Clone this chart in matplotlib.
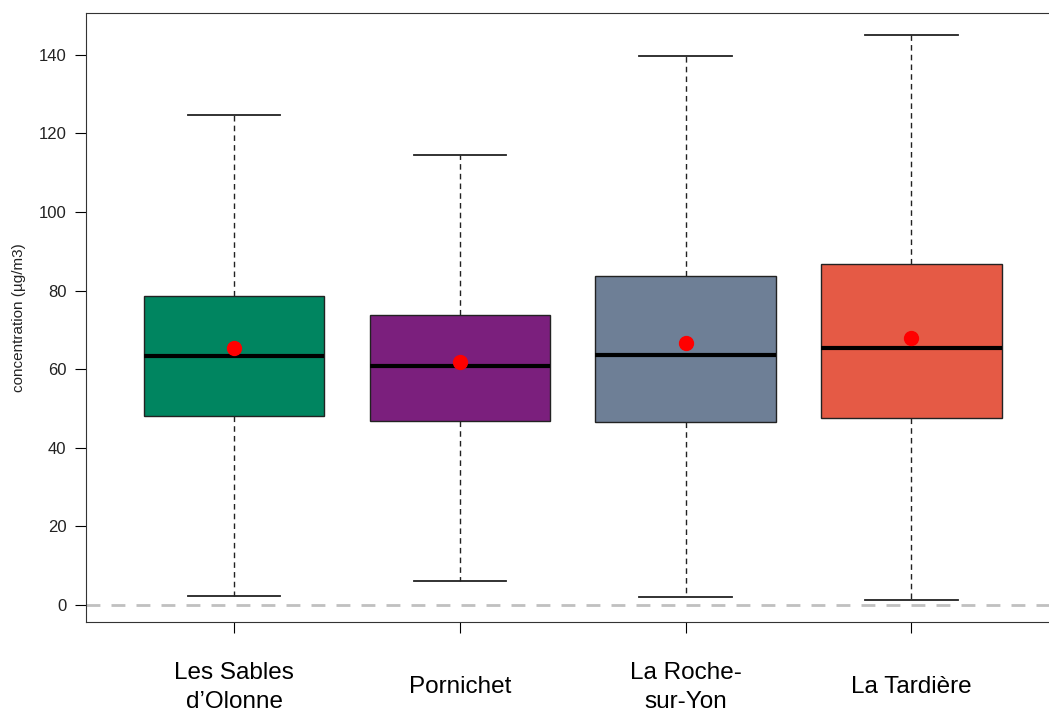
import matplotlib
matplotlib.use("Agg")
import matplotlib.pyplot as plt

sites = ["Les Sables\nd\u2019Olonne", "Pornichet", "La Roche-\nsur-Yon", "La Tardi\u00e8re"]
whislo = [2.3, 6.1, 2.0, 1.3]
q1 = [48.1, 46.8, 46.6, 47.6]
med = [63.4, 60.8, 63.6, 65.4]
q3 = [78.6, 73.8, 83.7, 86.8]
whishi = [124.6, 114.5, 139.7, 145.1]
means = [65.4, 61.8, 66.7, 68.0]
colors = ["#008560", "#7B1F7D", "#6E7F96", "#E55A45"]

plt.rcParams['font.family'] = ['Liberation Sans', 'DejaVu Sans']

fig = plt.figure(figsize=(10.49, 7.11), dpi=100)
ax = fig.add_axes([86/1049, 89/711, 1 - 86/1049, 609/711])

stats = []
for i in range(len(sites)):
    stats.append(dict(label=sites[i], whislo=whislo[i], q1=q1[i], med=med[i],
                      q3=q3[i], whishi=whishi[i], mean=means[i], fliers=[]))

pos = [1, 2, 3, 4]
bp = ax.bxp(stats, positions=pos, widths=0.8, patch_artist=True, showmeans=False,
            capwidths=0.41,
            boxprops=dict(edgecolor="#222222", linewidth=1.0),
            medianprops=dict(color="black", linewidth=3),
            whiskerprops=dict(color="#222222", linewidth=1.0, linestyle=(0, (4, 3))),
            capprops=dict(color="#222222", linewidth=1.3))
for b, c in zip(bp["boxes"], colors):
    b.set_facecolor(c)

ax.plot(pos, means, "o", color="red", markersize=10, zorder=5, linestyle="none")
ax.axhline(0, color="#c0c0c0", linewidth=2, linestyle=(0, (5, 4)), zorder=0)

ax.set_xlim(0.344, 4.61)
ax.set_ylim(-4.3, 150.6)
ax.set_yticks([0, 20, 40, 60, 80, 100, 120, 140])
ax.set_xticks(pos)
ax.set_xticklabels(sites, fontsize=17.5, linespacing=1.4, va="center")
ax.tick_params(axis="y", labelsize=12, length=8, pad=6, labelcolor="#222222")
ax.tick_params(axis="x", length=8, pad=39)
ax.set_ylabel("concentration (\u00b5g/m3)", fontsize=11, labelpad=9, color="#222222")
ax.spines["right"].set_visible(False)
for s in ["left", "top", "bottom"]:
    ax.spines[s].set_color("#333333")

fig.savefig("out.png", dpi=100)
